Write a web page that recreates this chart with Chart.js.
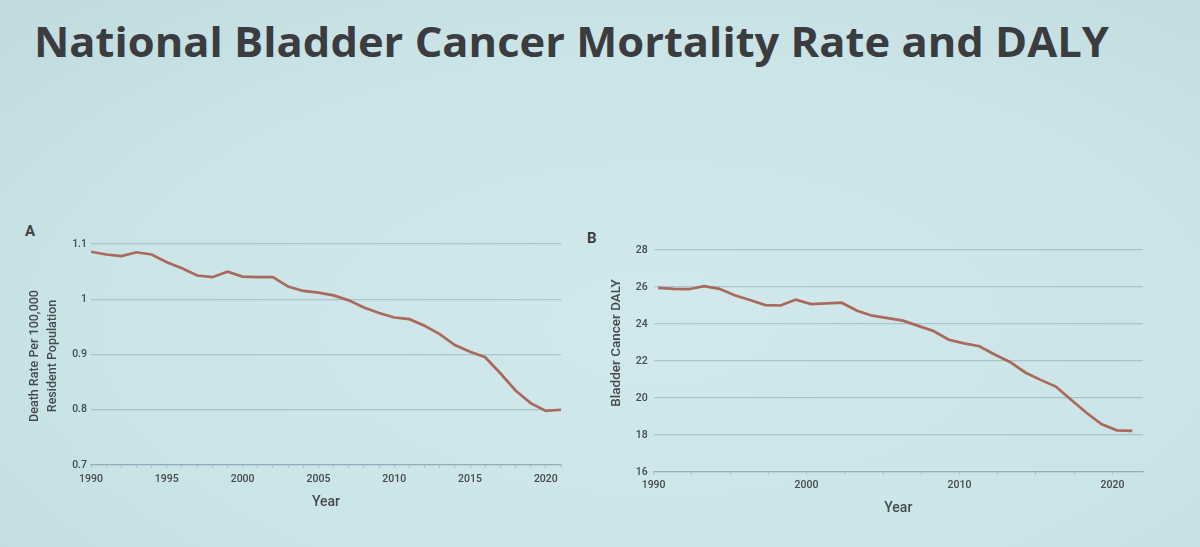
<!DOCTYPE html>
<html>
<head>
<meta charset="utf-8">
<script src="https://cdn.jsdelivr.net/npm/chart.js@4.4.1/dist/chart.umd.min.js"></script>
<style>
  html, body { margin: 0; padding: 0; }
  body {
    width: 1200px; height: 547px; overflow: hidden; position: relative;
    background: radial-gradient(ellipse at 55% 60%, #d1e9ec 0%, #cbe4e7 60%, #c0dadd 100%);
    font-family: Roboto, "Open Sans", sans-serif;
  }
  #title {
    position: absolute; left: 34px; top: 12px;
    font: 700 42px "Open Sans", Roboto, sans-serif;
    color: #3a3c40; white-space: nowrap; transform-origin: 0 0;
  }
  .panel { position: absolute; font: 700 15px Roboto, sans-serif; color: #3d3f43; }
  .box { position: absolute; }
</style>
</head>
<body>
<div id="title">National Bladder Cancer Mortality Rate and DALY</div>
<div class="panel" style="left:25px;top:222px">A</div>
<div class="panel" style="left:587px;top:229px">B</div>
<div class="box" style="left:0;top:215px;width:580px;height:310px"><canvas id="chart-a"></canvas></div>
<div class="box" style="left:580px;top:215px;width:620px;height:310px"><canvas id="chart-b"></canvas></div>

<script>
/* ---- data ---- */
const YEARS = [1990, 1991, 1992, 1993, 1994, 1995, 1996, 1997, 1998, 1999, 2000,
               2001, 2002, 2003, 2004, 2005, 2006, 2007, 2008, 2009, 2010,
               2011, 2012, 2013, 2014, 2015, 2016, 2017, 2018, 2019, 2020, 2021];

// A: death rate per 100,000 resident population
const DEATH_RATE = [1.086, 1.081, 1.078, 1.085, 1.081, 1.067, 1.056, 1.043, 1.040, 1.050, 1.041,
                    1.040, 1.040, 1.023, 1.015, 1.012, 1.007, 0.998, 0.985, 0.975, 0.967,
                    0.964, 0.952, 0.937, 0.917, 0.905, 0.895, 0.866, 0.835, 0.812, 0.798, 0.800];

// B: bladder cancer DALY
const DALY = [25.95, 25.90, 25.88, 26.05, 25.90, 25.55, 25.30, 25.02, 25.00, 25.32, 25.08,
              25.12, 25.15, 24.72, 24.45, 24.32, 24.18, 23.90, 23.62, 23.15, 22.95,
              22.80, 22.35, 21.95, 21.38, 20.98, 20.62, 19.90, 19.20, 18.58, 18.25, 18.22];

const X_LABELS_A = [1990, 1995, 2000, 2005, 2010, 2015, 2020];
const X_LABELS_B = [1990, 2000, 2010, 2020];
const Y_LABELS_A = ['0.7', '0.8', '0.9', '1', '1.1'];
const Y_LABELS_B = ['16', '18', '20', '22', '24', '26', '28'];

const B_SHIFT = 0.3;   // panel B line sits a little right of its year ticks

/* ---- look ---- */
const LINE_COLOR = '#aa6a5b';
const GRID_COLOR = 'rgba(100,138,155,0.36)';
const TEXT_COLOR = '#45494e';
const TICK_FONT  = { family: 'Roboto', size: 10.5, weight: '500' };

// draws the rotated y-axis title(s) where the slide has them
const sideTitle = {
  id: 'sideTitle',
  afterDraw(chart, args, opts) {
    const ctx = chart.ctx;
    ctx.save();
    ctx.font = opts.font;
    ctx.fillStyle = opts.color;
    ctx.textAlign = 'center';
    ctx.textBaseline = 'middle';
    opts.lines.forEach((t, i) => {
      ctx.save();
      ctx.translate(opts.x + i * opts.gap, opts.y);
      ctx.rotate(-Math.PI / 2);
      ctx.fillText(t, 0, 0);
      ctx.restore();
    });
    ctx.restore();
  }
};

function makeChart(id, cfg) {
  const ctx = document.getElementById(id).getContext('2d');
  return new Chart(ctx, {
    type: 'line',
    data: {
      datasets: [{
        data: YEARS.map((y, i) => ({ x: y + cfg.shift, y: cfg.values[i] })),
        borderColor: LINE_COLOR,
        borderWidth: 2.7,
        pointRadius: 0,
        tension: 0,
        fill: false
      }]
    },
    plugins: [sideTitle],
    options: {
      responsive: true,
      maintainAspectRatio: false,
      animation: false,
      layout: { padding: cfg.padding },
      plugins: {
        legend: { display: false },
        tooltip: { enabled: false },
        sideTitle: cfg.sideTitle
      },
      scales: {
        x: {
          type: 'linear',
          min: cfg.xMin, max: cfg.xMax,
          afterFit: s => { s.height = cfg.xHeight; },
          grid: { drawOnChartArea: false, drawTicks: true, tickLength: 3, color: GRID_COLOR },
          border: { display: true, color: GRID_COLOR, width: 1.2 },
          ticks: {
            stepSize: cfg.xStep,
            includeBounds: false,
            autoSkip: false,
            maxRotation: 0,
            padding: cfg.xTickPad,
            color: TEXT_COLOR,
            font: TICK_FONT,
            callback: v => cfg.xLabels.includes(v) ? String(v) : ''
          },
          title: {
            display: true, text: 'Year', color: TEXT_COLOR,
            font: { family: 'Roboto', size: 14, weight: '500' },
            padding: { top: 0, bottom: cfg.yearPad }
          }
        },
        y: {
          min: cfg.yMin, max: cfg.yMax,
          afterFit: s => { s.width = cfg.yWidth; },
          grid: { color: GRID_COLOR, lineWidth: 1.2, drawTicks: false },
          border: { display: false },
          ticks: {
            stepSize: cfg.yStep,
            padding: cfg.yTickPad,
            color: TEXT_COLOR,
            font: TICK_FONT,
            callback: (v, i) => cfg.yLabels[i]
          }
        }
      }
    }
  });
}

makeChart('chart-a', {
  values: DEATH_RATE, shift: 0,
  xMin: 1990, xMax: 2021, xStep: 1, xLabels: X_LABELS_A,
  yMin: 0.7, yMax: 1.1, yStep: 0.1, yLabels: Y_LABELS_A,
  padding: { top: 29, left: 20, right: 19, bottom: 0 },
  yWidth: 71, xHeight: 60, xTickPad: 5, yTickPad: 4, yearPad: 14.5,
  sideTitle: {
    lines: ['Death Rate Per 100,000', 'Resident Population'],
    x: 35, y: 141, gap: 18,
    font: '500 12.5px Roboto', color: TEXT_COLOR
  }
});

makeChart('chart-b', {
  values: DALY, shift: B_SHIFT,
  xMin: 1990, xMax: 2022, xStep: 2.5, xLabels: X_LABELS_B,
  yMin: 16, yMax: 28, yStep: 2, yLabels: Y_LABELS_B,
  padding: { top: 35, left: 20, right: 57, bottom: 0 },
  yWidth: 53.6, xHeight: 53, xTickPad: 4, yTickPad: 6, yearPad: 8.6,
  sideTitle: {
    lines: ['Bladder Cancer DALY'],
    x: 37, y: 128, gap: 0,
    font: '500 13.5px Roboto', color: TEXT_COLOR
  }
});

// squeeze the slide title to the width it has on the slide
const title = document.getElementById('title');
const w = title.getBoundingClientRect().width;
title.style.transform = 'scaleX(' + (1075 / w).toFixed(4) + ')';
</script>
</body>
</html>
